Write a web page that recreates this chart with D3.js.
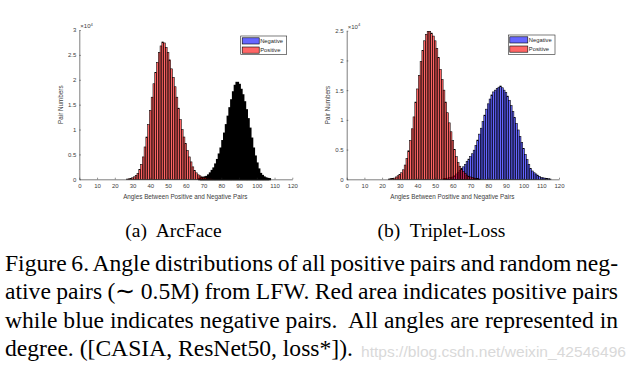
<!DOCTYPE html>
<html><head><meta charset="utf-8">
<script src="https://cdn.jsdelivr.net/npm/d3@7"></script>
<style>body{margin:0;background:#fff}svg{display:block}</style>
</head><body>
<svg id="c" width="636" height="378"></svg>
<script>
// ---- data (counts in units of 1e4, 1-degree bins) ----
const xTicks = [0,10,20,30,40,50,60,70,80,90,100,110,120];
const yTicksA = [0,0.5,1,1.5,2,2.5,3];
const yTicksB = [0,0.5,1,1.5,2,2.5];

const arcPosStart = 27;
const arcPos = [0.005,0.01,0.015,0.03,0.05,0.08,0.12,0.2,0.3,0.45,0.65,0.85,1.1,1.38,1.65,1.92,2.15,2.35,2.55,2.68,2.76,2.74,2.65,2.55,2.4,2.22,2.05,1.86,1.65,1.43,1.2,1.0,0.85,0.72,0.58,0.45,0.35,0.25,0.18,0.13,0.09,0.07,0.05,0.04,0.03,0.02,0.015,0.01,0.005];
const arcNegStart = 68;
const arcNeg = [0.01,0.02,0.03,0.04,0.05,0.08,0.12,0.17,0.22,0.3,0.39,0.5,0.62,0.77,0.92,1.09,1.26,1.43,1.59,1.75,1.88,1.94,1.9,1.8,1.69,1.55,1.39,1.21,1.02,0.82,0.62,0.46,0.32,0.2,0.11,0.07,0.04,0.02,0.01,0.005];

const triPosStart = 24;
const triPos = [0.005,0.01,0.015,0.02,0.04,0.06,0.08,0.11,0.16,0.24,0.35,0.48,0.65,0.85,1.05,1.3,1.52,1.75,1.98,2.17,2.33,2.44,2.49,2.49,2.46,2.41,2.33,2.2,2.05,1.85,1.68,1.5,1.3,1.12,0.95,0.8,0.65,0.5,0.38,0.28,0.22,0.17,0.13,0.1,0.07,0.05,0.04,0.03,0.02,0.015,0.01,0.005];
const triNegStart = 55;
const triNeg = [0.01,0.015,0.02,0.03,0.035,0.04,0.06,0.09,0.12,0.15,0.18,0.21,0.25,0.3,0.34,0.38,0.43,0.49,0.57,0.66,0.76,0.86,0.97,1.08,1.18,1.27,1.35,1.42,1.47,1.5,1.53,1.55,1.57,1.54,1.5,1.46,1.4,1.33,1.24,1.14,1.04,0.94,0.83,0.72,0.62,0.52,0.42,0.33,0.25,0.18,0.14,0.11,0.09,0.07,0.05,0.03,0.025,0.02,0.015,0.01,0.005];

const legendLabels = ["Negative","Positive"];
const subCaptions = ["(a)  ArcFace","(b)  Triplet-Loss"];
const captionLines = [
  "Figure 6. Angle distributions of all positive pairs and random neg-",
  "ative pairs (\u223C 0.5M) from LFW. Red area indicates positive pairs",
  "while blue indicates negative pairs.  All angles are represented in",
  "degree. ([CASIA, ResNet50, loss*])."
];
const watermark = "https://blog.csdn.net/weixin_42546496";

// ---- drawing ----
const svg = d3.select("#c");
const sans = "'Liberation Sans', Arial, sans-serif";
const serif = "'Liberation Serif', 'Times New Roman', serif";
const RED = "#ff0000", BLUE = "#0000ff";

function panel(cfg) {
  const x = d3.scaleLinear().domain([0,120]).range([cfg.x0, cfg.x1]);
  const y = d3.scaleLinear().domain([0, cfg.ymax]).range([179.3, cfg.ytop]);
  const g = svg.append("g");

  function bars(start, vals, fill, sw) {
    g.append("g").selectAll("rect").data(vals).join("rect")
      .attr("x", (d,i) => x(start + i - 0.5))
      .attr("width", (d,i) => x(start + i + 0.5) - x(start + i - 0.5))
      .attr("y", d => y(d))
      .attr("height", d => y(0) - y(d))
      .attr("fill", fill).attr("fill-opacity", 0.6)
      .attr("stroke", "#000").attr("stroke-width", sw);
  }
  bars(cfg.negStart, cfg.neg, BLUE, cfg.negSW);
  bars(cfg.posStart, cfg.pos, RED, 0.55);

  const ax = g.append("g").attr("transform", `translate(0,${y(0)})`)
    .call(d3.axisBottom(x).tickValues(xTicks).tickSizeInner(-1.6).tickSizeOuter(0).tickPadding(4));
  const ay = g.append("g").attr("transform", `translate(${x(0)},0)`)
    .call(d3.axisLeft(y).tickValues(cfg.yTicks).tickFormat(d => d).tickSizeInner(-1.6).tickSizeOuter(0).tickPadding(3));
  [ax, ay].forEach(a => {
    a.select(".domain").attr("stroke", "#262626").attr("stroke-width", 0.6);
    a.selectAll(".tick line").attr("stroke", "#262626").attr("stroke-width", 0.5);
    a.selectAll("text").attr("font-family", sans).attr("font-size", 6).attr("fill", "#404040");
  });

  const ex = g.append("text").attr("x", x(0) + 1).attr("y", cfg.ytop - 2)
    .attr("font-family", sans).attr("font-size", 6).attr("fill", "#404040");
  ex.append("tspan").text("\u00D710");
  ex.append("tspan").attr("dy", -2.5).attr("font-size", 4.2).text("4");

  g.append("text").attr("transform", `translate(${cfg.ylabX},${(y(0)+cfg.ytop)/2}) rotate(-90)`)
    .attr("text-anchor", "middle").attr("font-family", sans).attr("font-size", 6.3).attr("fill", "#404040")
    .text("Pair Numbers");
  g.append("text").attr("x", (cfg.x0 + cfg.x1)/2 - 0.5).attr("y", 198.8)
    .attr("text-anchor", "middle").attr("font-family", sans).attr("font-size", 6.3).attr("fill", "#404040")
    .text("Angles Between Positive and Negative Pairs");

  const L = cfg.leg;
  g.append("rect").attr("x", L.x).attr("y", L.y).attr("width", L.w).attr("height", L.h)
    .attr("fill", "#fff").attr("stroke", "#262626").attr("stroke-width", 0.6);
  [BLUE, RED].forEach((c, i) => {
    const py = L.y + 1.8 + i * 9.2;
    g.append("rect").attr("x", L.x + 1.5).attr("y", py).attr("width", L.pw).attr("height", 6.2)
      .attr("fill", c).attr("fill-opacity", 0.6).attr("stroke", "#000").attr("stroke-width", 0.6);
    g.append("text").attr("x", L.x + L.pw + 2.5).attr("y", py + 5)
      .attr("font-family", sans).attr("font-size", 5.8).attr("fill", "#262626").text(legendLabels[i]);
  });
}

panel({x0:79.3, x1:292.3, ymax:3, ytop:30, yTicks:yTicksA, ylabX:62.5,
  pos:arcPos, posStart:arcPosStart, neg:arcNeg, negStart:arcNegStart, negSW:1.9,
  leg:{x:240.7, y:36, w:46, h:18.3, pw:17}});
panel({x0:346.7, x1:559, ymax:2.5, ytop:30.7, yTicks:yTicksB, ylabX:329.5,
  pos:triPos, posStart:triPosStart, neg:triNeg, negStart:triNegStart, negSW:0.55,
  leg:{x:508.3, y:35, w:46.7, h:19.3, pw:18}});

// sub-captions
[[173.5, 0], [441.5, 1]].forEach(([cx, i]) => {
  svg.append("text").attr("x", cx).attr("y", 236.5).attr("text-anchor", "middle")
    .attr("font-family", serif).attr("font-size", 19.5).attr("fill", "#000")
    .style("white-space", "pre").text(subCaptions[i]);
});

// figure caption (justified)
const lineY = [271, 299.3, 327.6, 355.9];
captionLines.forEach((t, i) => {
  const tx = svg.append("text").attr("x", 5).attr("y", lineY[i])
    .attr("font-family", serif).attr("font-size", 23.6).attr("fill", "#000")
    .style("white-space", "pre").text(t);
  if (i < 3) {
    const w = tx.node().getComputedTextLength();
    const spaces = (t.match(/ /g) || []).length;
    tx.attr("word-spacing", (613 - w) / spaces);
  }
});

svg.append("text").attr("x", 361).attr("y", 357)
  .attr("font-family", sans).attr("font-size", 15).attr("fill", "#d9d9d9")
  .attr("textLength", 265).attr("lengthAdjust", "spacingAndGlyphs").text(watermark);
</script>
</body></html>
